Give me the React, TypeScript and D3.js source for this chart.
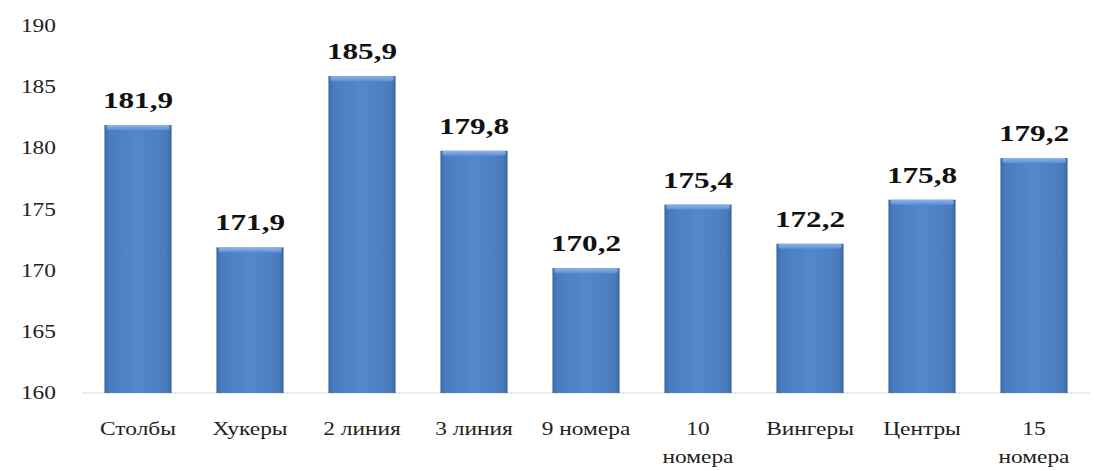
import React from "react";
import * as d3 from "d3";

const categories: string[][] = [
  ["Столбы"], ["Хукеры"], ["2 линия"], ["3 линия"], ["9 номера"],
  ["10", "номера"], ["Вингеры"], ["Центры"], ["15", "номера"],
];
const values: number[] = [181.9, 171.9, 185.9, 179.8, 170.2, 175.4, 172.2, 175.8, 179.2];
const yTicks: number[] = [160, 165, 170, 175, 180, 185, 190];

const W = 1094, H = 471;
const margin = { left: 82, right: 4, top: 26, bottom: 78 };
const SX = 1.3;
const FONT = "'Liberation Serif', 'Times New Roman', serif";

export default function App() {
  const x = d3.scaleBand<number>()
    .domain(values.map((_, i) => i))
    .range([margin.left, W - margin.right])
    .paddingInner(0.4)
    .paddingOuter(0.2);
  const y = d3.scaleLinear().domain([160, 190]).range([H - margin.bottom, margin.top]);
  const bw = x.bandwidth();
  return (
    <svg width={W} height={H} style={{ position: "absolute", left: 0, top: 0, background: "#fff" }}>
      <defs>
        <linearGradient id="barG" x1="0" x2="1" y1="0" y2="0">
          <stop offset="0" stopColor="#3b6aa6" />
          <stop offset="0.08" stopColor="#4a7cc0" />
          <stop offset="0.5" stopColor="#5388cc" />
          <stop offset="0.92" stopColor="#4a7cc0" />
          <stop offset="1" stopColor="#3a68a3" />
        </linearGradient>
        <linearGradient id="topG" x1="0" x2="0" y1="0" y2="1">
          <stop offset="0" stopColor="#8fb5e6" />
          <stop offset="1" stopColor="#5d8fd0" />
        </linearGradient>
      </defs>
      {yTicks.map((t) => (
        <text key={t} transform={`translate(56,${y(t) + 6}) scale(${SX},1)`} textAnchor="end" style={{ fontFamily: FONT }} fontSize={18} fill="#222">
          {t}
        </text>
      ))}
      <line x1={margin.left} x2={W - margin.right} y1={y(160)} y2={y(160)} stroke="#d9d9d9" strokeWidth={1} />
      {values.map((v, i) => {
        const bx = x(i)!;
        const cx = bx + bw / 2;
        const top = y(v);
        const h = y(160) - top;
        return (
          <g key={i}>
            <rect x={bx} y={top} width={bw} height={h} fill="url(#barG)" />
            <rect x={bx + 2} y={top} width={bw - 4} height={5} fill="url(#topG)" rx={2} />
            <text transform={`translate(${cx},${top - 17}) scale(${SX},1)`} textAnchor="middle" style={{ fontFamily: FONT }} fontWeight="bold" fontSize={24} fill="#111">
              {String(v.toFixed(1)).replace(".", ",")}
            </text>
            {categories[i].map((line, j) => (
              <text key={j} transform={`translate(${cx},${435 + j * 28}) scale(${SX},1)`} textAnchor="middle" style={{ fontFamily: FONT }} fontSize={18} fill="#222">
                {line}
              </text>
            ))}
          </g>
        );
      })}
    </svg>
  );
}
